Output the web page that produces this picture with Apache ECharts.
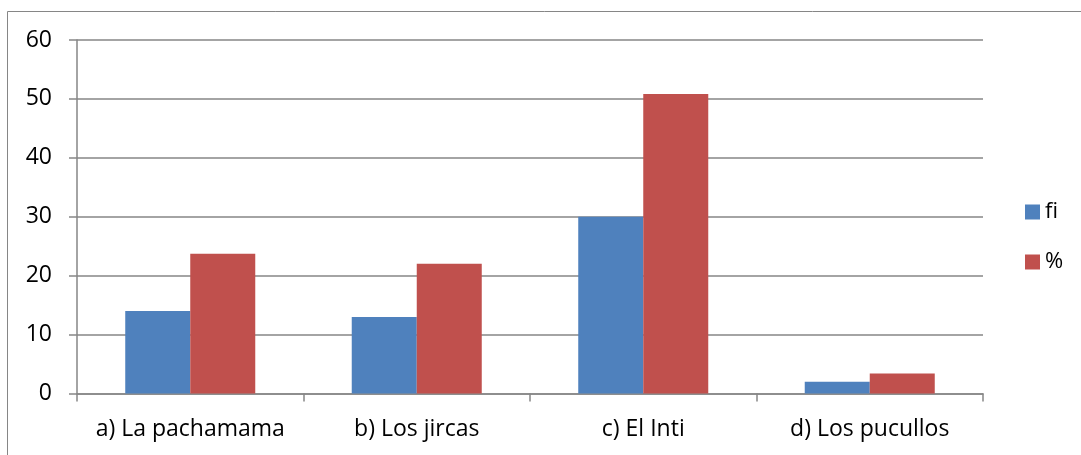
<!DOCTYPE html>
<html><head><meta charset="utf-8">
<script src="https://cdn.jsdelivr.net/npm/echarts@6/dist/echarts.min.js"></script>
<style>html,body{margin:0;padding:0;background:#fff}#c{width:1081px;height:455px}</style>
</head><body><div id="c"></div>
<script>
const categories = ['a) La pachamama', 'b) Los jircas', 'c) El Inti', 'd) Los pucullos'];
const fiValues = [14, 13, 30, 2];
const pctValues = [23.73, 22.03, 50.85, 3.39];
const yTicks = { min: 0, max: 60, interval: 10 };

const chart = echarts.init(document.getElementById('c'), null, { renderer: 'canvas' });
const font = 'Open Sans';
chart.setOption({
  animation: false,
  backgroundColor: '#fff',
  textStyle: { fontFamily: font },
  graphic: [
    { type: 'line', shape: { x1: 7.5, y1: 11.5, x2: 1081, y2: 11.5 }, style: { stroke: '#868686', lineWidth: 1 } },
    { type: 'line', shape: { x1: 7.5, y1: 11.5, x2: 7.5, y2: 455 }, style: { stroke: '#868686', lineWidth: 1 } }
  ],
  grid: { left: 77, right: 98, top: 40, bottom: 61.5, containLabel: false },
  legend: {
    orient: 'vertical', left: 1025, top: 201, padding: 0, itemWidth: 15, itemHeight: 15, itemGap: 28,
    icon: 'rect',
    formatter: n => (n === 'fi' ? 'f\u200Ci' : n),
    textStyle: { fontFamily: font, fontSize: 22, color: '#000' },
    data: ['fi', '%']
  },
  xAxis: {
    type: 'category', data: categories,
    axisLine: { lineStyle: { color: '#868686', width: 1.5 } },
    axisTick: { show: true, interval: 0, length: 8, alignWithLabel: false, lineStyle: { color: '#868686', width: 1.5 } },
    axisLabel: { interval: 0, color: '#000', fontSize: 23, fontFamily: font, margin: 24 }
  },
  yAxis: {
    type: 'value', min: yTicks.min, max: yTicks.max, interval: yTicks.interval,
    axisLine: { show: true, lineStyle: { color: '#868686', width: 1.5 } },
    axisTick: { show: true, length: 8, lineStyle: { color: '#868686', width: 1.5 } },
    splitLine: { lineStyle: { color: '#868686', width: 1.5 } },
    axisLabel: { color: '#000', fontSize: 23, fontFamily: font, margin: 25 }
  },
  series: [
    { name: 'fi', type: 'bar', data: fiValues, barGap: '0%', barCategoryGap: '42.6%', itemStyle: { color: '#4F81BD' } },
    { name: '%', type: 'bar', data: pctValues, barGap: '0%', barCategoryGap: '42.6%', itemStyle: { color: '#C0504D' } }
  ]
});
</script></body></html>
